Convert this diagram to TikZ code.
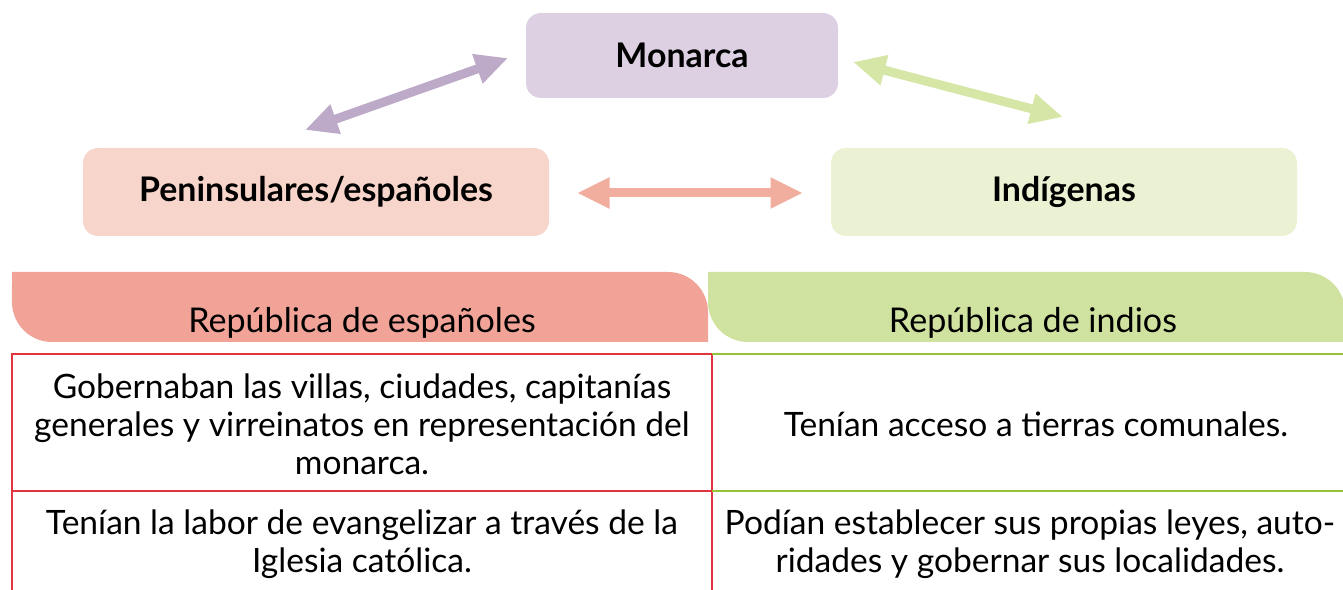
\documentclass[tikz,border=0pt]{standalone}
\usepackage{fontspec}
\setmainfont{Lato}
\usetikzlibrary{arrows.meta,positioning}

\definecolor{monfill}{HTML}{DCD0E2}
\definecolor{penfill}{HTML}{F8D5CB}
\definecolor{indfill}{HTML}{EAF2D3}
\definecolor{purplearr}{HTML}{BDA9C8}
\definecolor{greenarr}{HTML}{D5E6A6}
\definecolor{salmonarr}{HTML}{F1AE9F}
\definecolor{hdrred}{HTML}{F0A396}
\definecolor{hdrgreen}{HTML}{D0E29F}
\definecolor{linered}{HTML}{E0353F}
\definecolor{linegreen}{HTML}{96C23A}

\begin{document}
\begin{tikzpicture}[
    ent/.style={rounded corners=0.3cm, minimum height=1.76cm, minimum width=9.32cm,
        font=\fontsize{19.3}{22}\selectfont\bfseries},
    dblarrow/.style={line width=0.18cm, {Triangle[width=0.58cm,length=0.65cm]}-{Triangle[width=0.58cm,length=0.65cm]}},
    headtext/.style={font=\fontsize{19.4}{22}\selectfont},
    celltext/.style={align=center, font=\fontsize{19.1}{21.6}\selectfont}
]
    \useasboundingbox (0,0) rectangle (26.86,11.8);

    % top boxes
    \node[ent, fill=monfill, minimum width=6.24cm, minimum height=1.7cm] (mon) at (13.64,10.69) {Monarca};
    \node[ent, fill=penfill] (pen) at (6.32,7.96) {Peninsulares/españoles};
    \node[ent, fill=indfill] (ind) at (21.28,7.96) {Indígenas};

    \coordinate (p1) at (6.10,9.20);
    \coordinate (p2) at (10.16,10.64);
    \coordinate (g1) at (17.06,10.56);
    \coordinate (g2) at (21.26,9.46);
    \coordinate (s1) at (11.54,7.94);
    \coordinate (s2) at (16.06,7.94);
    \draw[dblarrow, purplearr] (p1) -- (p2);
    \draw[dblarrow, greenarr] (g1) -- (g2);
    \draw[dblarrow, salmonarr] (s1) -- (s2);

    % headers
    \fill[hdrred] (0.24,6.36) -- (13.36,6.36) arc[start angle=90, end angle=0, radius=0.8]
        -- (14.16,4.96) -- (1.04,4.96) arc[start angle=270, end angle=180, radius=0.8] -- cycle;
    \fill[hdrgreen] (14.16,6.36) -- (26.1,6.36) arc[start angle=90, end angle=0, radius=0.8]
        -- (26.9,4.96) -- (14.96,4.96) arc[start angle=270, end angle=180, radius=0.8] -- cycle;
    \node[headtext] (hesp) at (7.24,5.34) {República de españoles};
    \node[headtext] (hind) at (20.66,5.34) {República de indios};

    % table lines
    \draw[linered, line width=1.2pt] (0.24,0) -- (0.24,4.72) -- (14.24,4.72) -- (14.24,0);
    \draw[linered, line width=1.2pt] (0.24,1.98) -- (14.24,1.98);
    \draw[linegreen, line width=1.2pt] (14.24,4.72) -- (26.86,4.72);
    \draw[linegreen, line width=1.2pt] (14.24,1.98) -- (26.86,1.98);

    % cells
    \node[celltext] (c11) at (7.24,3.32) {Gobernaban las villas, ciudades, capitanías\\generales y virreinatos en representación del\\monarca.};
    \node[celltext] (c12) at (20.72,3.32) {Tenían acceso a tierras comunales.};
    \node[celltext] (c21) at (7.24,0.92) {Tenían la labor de evangelizar a través de la\\Iglesia católica.};
    \node[celltext] (c22) at (20.6,0.92) {Podían establecer sus propias leyes, auto-\\ridades y gobernar sus localidades.};
\end{tikzpicture}
\end{document}
